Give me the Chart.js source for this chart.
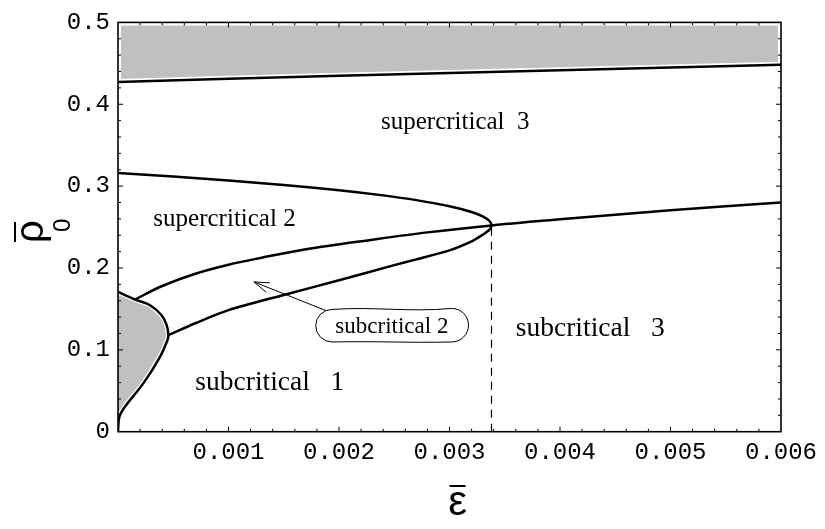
<!DOCTYPE html>
<html lang="en">
<head>
<meta charset="UTF-8">
<title>Phase diagram</title>
<script src="https://cdn.jsdelivr.net/npm/chart.js"></script>
<style>
    html, body { margin: 0; padding: 0; background: #fff; }
    .wrap { width: 825px; height: 529px; position: relative; }
</style>
</head>
<body>
<div class="wrap"><canvas id="phaseChart"></canvas></div>
<script>
    // upper boundary line (gray band above it)
    const topX = [0, 0.001, 0.002, 0.003, 0.004, 0.005, 0.006];
    const topY = [0.4273, 0.4312, 0.4348, 0.4382, 0.4415, 0.4450, 0.4484];

    // left lobe: from the origin round the bump back to the axis
    const lobeX = [0, 0.000012, 0.000063, 0.000229, 0.00038, 0.000447, 0.000456, 0.000441, 0.000396, 0.00029, 0.000154, 0];
    const lobeY = [0, 0.018, 0.0305, 0.059, 0.0915, 0.1118, 0.118, 0.130, 0.142, 0.1545, 0.1615, 0.1707];

    // nose curve: upper branch from the axis to the cusp, lower branch back to the bump
    const noseX = [0, 0.0005, 0.001, 0.0015, 0.002, 0.0024, 0.0027, 0.003, 0.0032, 0.0033, 0.00336, 0.00338,
                   0.00336, 0.0033, 0.0032, 0.003, 0.0027, 0.0025, 0.002, 0.0015, 0.001, 0.0007, 0.000456];
    const noseY = [0.316, 0.3117, 0.3069, 0.3014, 0.2950, 0.2887, 0.2829, 0.2755, 0.2684, 0.2630, 0.2576, 0.252,
                   0.2465, 0.2405, 0.2325, 0.2215, 0.2105, 0.2035, 0.1850, 0.1670, 0.1485, 0.1325, 0.118];

    // line running through the cusp
    const crossX = [0.000154, 0.0004, 0.0007, 0.001, 0.0013, 0.0017, 0.0023, 0.0028, 0.00338, 0.004, 0.005, 0.006];
    const crossY = [0.1615, 0.178, 0.193, 0.204, 0.2125, 0.2228, 0.2345, 0.2435, 0.252, 0.2595, 0.2705, 0.280];

    // dashed marker under the cusp
    const cuspX = 0.00338;
    const cuspY = 0.252;

    // region names and where they sit (data units, left end of baseline)
    const regionText = ['supercritical  3', 'supercritical 2', 'subcritical   1', 'subcritical   3'];
    const regionX = [0.00238, 0.00032, 0.00070, 0.00360];
    const regionY = [0.370, 0.251, 0.051, 0.117];
    const regionSize = [25, 25, 27.5, 27.5];

    // bubble label with arrow
    const bubbleText = 'subcritical 2';
    const bubbleX = [0.001785, 0.003172];
    const bubbleY = [0.1096, 0.1506];
    const arrowFrom = [0.0019, 0.147];
    const arrowTo = [0.00123, 0.183];

    const xMax = 0.006;
    const yMax = 0.5;

    const pts = (xs, ys) => xs.map((x, i) => ({ x: x, y: ys[i] }));

    const bandPts = pts(topX, topY).concat([{ x: xMax, y: yMax }, { x: 0, y: yMax }, { x: 0, y: topY[0] }]);

    const frameAndNotes = {
        id: 'frameAndNotes',
        afterDraw(chart) {
            const ctx = chart.ctx;
            const xs = chart.scales.x, ys = chart.scales.y;
            const a = chart.chartArea;
            const px = v => xs.getPixelForValue(v);
            const py = v => ys.getPixelForValue(v);

            ctx.save();
            // frame
            ctx.strokeStyle = '#000';
            ctx.lineWidth = 1.6;
            ctx.strokeRect(a.left, a.top, a.right - a.left, a.bottom - a.top);

            // inward ticks on all four sides
            ctx.lineWidth = 1;
            ctx.beginPath();
            for (let i = 1; i < 30; i++) {
                const x = px(i * 0.0002);
                const len = i % 5 === 0 ? 5 : 3;
                ctx.moveTo(x, a.bottom); ctx.lineTo(x, a.bottom - len);
                ctx.moveTo(x, a.top); ctx.lineTo(x, a.top + len);
            }
            for (let i = 1; i < 25; i++) {
                const y = py(i * 0.02);
                const len = i % 5 === 0 ? 5 : 3;
                ctx.moveTo(a.left, y); ctx.lineTo(a.left + len, y);
                ctx.moveTo(a.right, y); ctx.lineTo(a.right - len, y);
            }
            ctx.stroke();

            // region names
            ctx.fillStyle = '#000';
            ctx.textAlign = 'left';
            ctx.textBaseline = 'alphabetic';
            regionText.forEach((t, i) => {
                ctx.font = regionSize[i] + 'px "Liberation Serif", serif';
                ctx.fillText(t, px(regionX[i]), py(regionY[i]));
            });

            // arrow
            const ax0 = px(arrowFrom[0]), ay0 = py(arrowFrom[1]);
            const ax1 = px(arrowTo[0]), ay1 = py(arrowTo[1]);
            const ang = Math.atan2(ay1 - ay0, ax1 - ax0);
            ctx.lineWidth = 1;
            ctx.beginPath();
            ctx.moveTo(ax0, ay0); ctx.lineTo(ax1, ay1);
            ctx.moveTo(ax1 - 16 * Math.cos(ang - 0.32), ay1 - 16 * Math.sin(ang - 0.32));
            ctx.lineTo(ax1, ay1);
            ctx.lineTo(ax1 - 16 * Math.cos(ang + 0.32), ay1 - 16 * Math.sin(ang + 0.32));
            ctx.stroke();

            // bubble
            const bl = px(bubbleX[0]), br = px(bubbleX[1]);
            const bt = py(bubbleY[1]), bb = py(bubbleY[0]);
            const r = (bb - bt) / 2;
            ctx.beginPath();
            ctx.moveTo(bl + r, bt + 1);
            ctx.bezierCurveTo(bl + (br - bl) * 0.4, bt - 2, bl + (br - bl) * 0.6, bt + 4, br - r, bt);
            ctx.arc(br - r, bt + r, r, -Math.PI / 2, Math.PI / 2);
            ctx.bezierCurveTo(bl + (br - bl) * 0.6, bb + 1, bl + (br - bl) * 0.4, bb - 1, bl + r, bb);
            ctx.arc(bl + r, bt + r + 0.5, r - 0.5, Math.PI / 2, Math.PI * 1.5);
            ctx.fillStyle = '#fff';
            ctx.fill();
            ctx.stroke();
            ctx.fillStyle = '#000';
            ctx.font = '23px "Liberation Serif", serif';
            ctx.textAlign = 'center';
            ctx.fillText(bubbleText, (bl + br) / 2, (bt + bb) / 2 + 8);

            // x title: epsilon with bar
            const cx = (a.left + a.right) / 2 + 8;
            ctx.font = '42px "Liberation Sans", sans-serif';
            ctx.textAlign = 'center';
            ctx.fillText('\u03b5', cx, 515);
            ctx.fillRect(cx - 8, 485, 16, 2);

            // y title: rho bar, subscript 0, rotated
            ctx.translate(43, 243);
            ctx.rotate(-Math.PI / 2);
            ctx.textAlign = 'left';
            ctx.font = '40px "Liberation Sans", sans-serif';
            ctx.fillText('\u03c1', 0, 0);
            ctx.fillRect(1, -29, 20, 2);
            ctx.font = '24px "Liberation Sans", sans-serif';
            ctx.fillText('0', 11, 27);
            ctx.restore();
        }
    };

    const lineStyle = { showLine: true, pointRadius: 0, borderColor: '#000', borderWidth: 2.5, fill: false };

    new Chart(document.getElementById('phaseChart').getContext('2d'), {
        type: 'scatter',
        data: {
            datasets: [
                { ...lineStyle, data: pts(topX, topY), order: 1 },
                { ...lineStyle, data: pts(lobeX, lobeY), tension: 0.35, order: 1 },
                { ...lineStyle, data: pts(noseX, noseY), tension: 0.3, order: 1 },
                { ...lineStyle, data: pts(crossX, crossY), tension: 0.35, order: 1 },
                { ...lineStyle, data: [{ x: cuspX, y: 0 }, { x: cuspX, y: cuspY }], borderWidth: 1.2, borderDash: [8, 6], order: 1 },
                { showLine: true, pointRadius: 0, data: bandPts, fill: 'shape', backgroundColor: '#c0c0c0',
                  borderColor: '#fff', borderWidth: 6, clip: 0, order: 5 },
                { showLine: true, pointRadius: 0, data: pts(lobeX, lobeY), fill: 'shape', tension: 0.35,
                  backgroundColor: '#c0c0c0', borderColor: '#fff', borderWidth: 5, clip: 0, order: 5 }
            ]
        },
        options: {
            responsive: true,
            maintainAspectRatio: false,
            animation: false,
            layout: { padding: { top: 21.7, right: 44, left: 0, bottom: 0 } },
            plugins: { legend: { display: false }, tooltip: { enabled: false } },
            scales: {
                x: {
                    type: 'linear', min: 0, max: xMax,
                    grid: { display: false, drawTicks: false },
                    border: { display: false },
                    ticks: {
                        stepSize: 0.001, padding: 7, color: '#000',
                        font: { family: '"Liberation Mono", monospace', size: 24 },
                        maxRotation: 0,
                        callback: v => v === 0 ? '' : v.toFixed(3)
                    },
                    afterFit: s => { s.height = 97.3; }
                },
                y: {
                    type: 'linear', min: 0, max: yMax,
                    grid: { display: false, drawTicks: false },
                    border: { display: false },
                    ticks: {
                        stepSize: 0.1, padding: 8, color: '#000',
                        font: { family: '"Liberation Mono", monospace', size: 24 },
                        callback: v => v === 0 ? '0' : v.toFixed(1)
                    },
                    afterFit: s => { s.width = 118; }
                }
            }
        },
        plugins: [frameAndNotes]
    });
</script>
</body>
</html>
